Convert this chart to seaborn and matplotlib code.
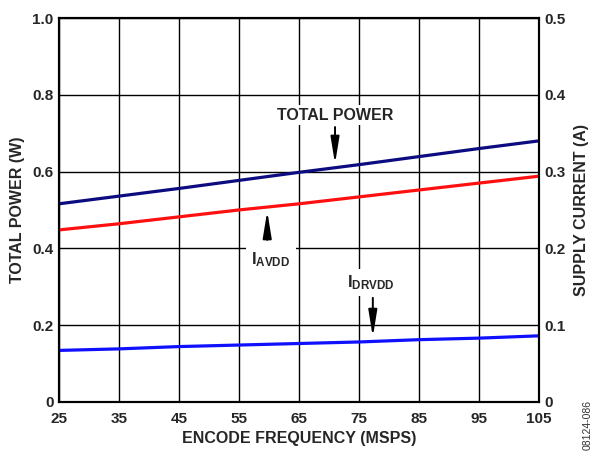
import numpy as np
import pandas as pd
import matplotlib
matplotlib.use("Agg")
import matplotlib.pyplot as plt
import seaborn as sns

# -------------------------------
# Data
# -------------------------------
freq = [25, 35, 45, 55, 65, 75, 85, 95, 105]
total_power = [0.516, 0.536, 0.556, 0.577, 0.598, 0.618, 0.639, 0.660, 0.680]
i_avdd = [0.224, 0.232, 0.241, 0.250, 0.258, 0.267, 0.276, 0.285, 0.294]
i_drvdd = [0.067, 0.069, 0.072, 0.074, 0.076, 0.078, 0.081, 0.083, 0.086]

left_ticks = [0, 0.2, 0.4, 0.6, 0.8, 1.0]
left_labels = ["0", "0.2", "0.4", "0.6", "0.8", "1.0"]
right_ticks = [0, 0.1, 0.2, 0.3, 0.4, 0.5]
right_labels = ["0", "0.1", "0.2", "0.3", "0.4", "0.5"]
x_ticks = [25, 35, 45, 55, 65, 75, 85, 95, 105]

df = pd.DataFrame({"freq": freq, "total": total_power,
                   "avdd": i_avdd, "drvdd": i_drvdd})

# -------------------------------
# Style
# -------------------------------
sns.set_style("white")
plt.rcParams["font.family"] = ["Liberation Sans", "DejaVu Sans"]
plt.rcParams["font.weight"] = "bold"
plt.rcParams["mathtext.fontset"] = "custom"
plt.rcParams["mathtext.rm"] = "Liberation Sans:bold"
plt.rcParams["mathtext.bf"] = "Liberation Sans:bold"

fig, ax = plt.subplots(figsize=(5.93, 4.51), dpi=100)
fig.subplots_adjust(left=0.0995, right=0.909, top=0.96, bottom=0.109)

ax.set_xlim(25, 105)
ax.set_ylim(0, 1.0)
ax.set_xticks(x_ticks)
ax.set_yticks(left_ticks)
ax.set_yticklabels(left_labels)
ax.grid(True, color="black", linewidth=1.0)
ax.set_axisbelow(True)
for s in ax.spines.values():
    s.set_color("black")
    s.set_linewidth(1.5)
ax.tick_params(axis="y", length=0, labelsize=11, pad=4)
ax.tick_params(axis="x", length=0, labelsize=11, pad=7)

sns.lineplot(data=df, x="freq", y="total", ax=ax, color="#0c0c80", linewidth=2.3)
ax.set_xlabel("ENCODE FREQUENCY (MSPS)", fontsize=11.5, fontweight="bold", labelpad=4)
ax.set_ylabel("TOTAL POWER (W)", fontsize=11.5, fontweight="bold", labelpad=5)

ax2 = ax.twinx()
ax2.set_ylim(0, 0.5)
ax2.set_yticks(right_ticks)
ax2.set_yticklabels(right_labels)
ax2.tick_params(length=0, labelsize=11, pad=4)
for s in ax2.spines.values():
    s.set_color("black")
    s.set_linewidth(1.5)
sns.lineplot(data=df, x="freq", y="avdd", ax=ax2, color="#ff1010", linewidth=2.3)
sns.lineplot(data=df, x="freq", y="drvdd", ax=ax2, color="#1010ff", linewidth=2.3)
ax2.set_ylabel("SUPPLY CURRENT (A)", fontsize=11.5, fontweight="bold", labelpad=6)
ax2.set_xlim(25, 105)

# -------------------------------
# Annotations (labels with white boxes + separate arrows)
# -------------------------------
arrow = dict(arrowstyle="-|>,head_width=0.26,head_length=1.6", color="black",
             lw=1.4, shrinkA=0, shrinkB=0)
box = dict(facecolor="white", edgecolor="none", pad=2)

ax.text(71, 0.747, "TOTAL POWER", ha="center", va="center",
        fontsize=11.5, fontweight="bold", bbox=box, zorder=5)
ax.annotate("", xy=(71, 0.620), xytext=(71, 0.716), arrowprops=arrow, zorder=6)

ax.text(60.3, 0.37, r"$\mathbf{I_{AVDD}}$", ha="center", va="center",
        fontsize=12, bbox=dict(box, pad=4), zorder=5)
ax.annotate("", xy=(59.7, 0.497), xytext=(59.7, 0.422), arrowprops=arrow, zorder=6)

ax.text(77.0, 0.31, r"$\mathbf{I_{DRVDD}}$", ha="center", va="center",
        fontsize=12, bbox=dict(box, pad=3), zorder=5)
ax.annotate("", xy=(77.3, 0.169), xytext=(77.3, 0.271), arrowprops=arrow, zorder=6)

fig.text(0.991, 0.003, "08124-086", rotation=90, fontsize=7.5, fontweight="normal",
         color="#333333", ha="center", va="bottom")

fig.savefig("out.png", dpi=100)
